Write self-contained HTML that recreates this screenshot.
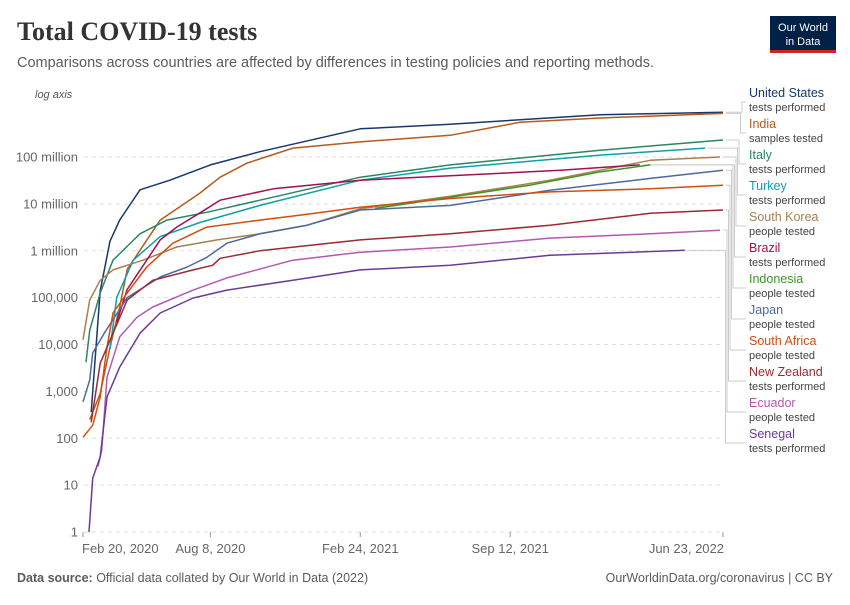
<!DOCTYPE html>
<html><head><meta charset="utf-8">
<style>
html,body{margin:0;padding:0;background:#fff;}
body{width:850px;height:600px;position:relative;overflow:hidden;font-family:"Liberation Sans",sans-serif;}
svg text{font-family:"Liberation Sans",sans-serif;}
</style></head>
<body>
<svg id="chart" width="850" height="600" viewBox="0 0 850 600" xmlns="http://www.w3.org/2000/svg">
  <text x="17" y="40" font-size="26" font-weight="bold" fill="#333" style="font-family:'Liberation Serif',serif">Total COVID-19 tests</text>
  <text x="17" y="67" font-size="14.5" fill="#5b5b5b">Comparisons across countries are affected by differences in testing policies and reporting methods.</text>
  <g>
    <rect x="770" y="16" width="66" height="35" fill="#002147"/>
    <rect x="770" y="50" width="66" height="3" fill="#ce261e"/>
    <text x="803" y="31" font-size="11" fill="#fff" text-anchor="middle">Our World</text>
    <text x="803" y="45" font-size="11" fill="#fff" text-anchor="middle">in Data</text>
  </g>
  <text x="35" y="98" font-size="11" font-style="italic" fill="#555">log axis</text>
  <g id="grid"></g>
  <g id="xaxis"></g>
  <g id="connectors"></g>
  <g id="series"></g>
  <g id="legend"></g>
  <text x="17" y="582" font-size="12.5" fill="#5b5b5b"><tspan font-weight="bold">Data source:</tspan> Official data collated by Our World in Data (2022)</text>
  <text x="833" y="582" font-size="12.5" fill="#5b5b5b" text-anchor="end">OurWorldinData.org/coronavirus | CC BY</text>
</svg>
<script>
// Chart data (days since Feb 20, 2020; total tests)
const yTickValues = [1,10,100,1000,10000,100000,1000000,10000000,100000000];
const yTickLabels = ["1","10","100","1,000","10,000","100,000","1 million","10 million","100 million"];
const xTickDays = [0,170,370,570,854];
const xTickLabels = ["Feb 20, 2020","Aug 8, 2020","Feb 24, 2021","Sep 12, 2021","Jun 23, 2022"];
const countries = ["United States","India","Italy","Turkey","South Korea","Brazil","Indonesia","Japan","South Africa","New Zealand","Ecuador","Senegal"];
const metrics = ["tests performed","samples tested","tests performed","tests performed","people tested","tests performed","people tested","people tested","people tested","tests performed","people tested","tests performed"];
const colors = ["#18386a","#b35a1f","#2c8465","#0fa0a8","#a8804f","#a0124f","#3a9820","#4c6a9c","#cf4e12","#9a2b32","#b25ab0","#6b3a99"];
const usDays = [11,23,36,49,76,116,170,236,370,490,690,854];
const usVals = [360,140000,1600000,4500000,20000000,32000000,68000000,130000000,400000000,500000000,800000000,900000000];
const indiaDays = [9,23,36,49,59,103,156,183,219,280,370,490,583,690,854];
const indiaVals = [250,900,8700,63000,400000,4500000,17000000,37000000,74000000,155000000,210000000,290000000,550000000,680000000,850000000];
const italyDays = [4,9,23,40,76,112,165,236,370,490,690,854];
const italyVals = [4200,20000,126000,630000,2300000,4500000,6600000,12000000,37000000,68000000,140000000,230000000];
const turkeyDays = [36,45,67,103,156,236,370,490,690,830];
const turkeyVals = [8000,100000,630000,2000000,4000000,9300000,32000000,58000000,110000000,155000000];
const koreaDays = [0,9,23,40,80,125,179,236,299,370,490,623,757,850];
const koreaVals = [12600,89000,234000,390000,630000,1200000,1700000,2300000,3500000,7900000,14500000,32000000,85000000,100000000];
const brazilDays = [45,59,85,103,125,165,183,254,370,490,637,743];
const brazilVals = [30000,150000,630000,1700000,3200000,7900000,12000000,21000000,32000000,40000000,52000000,68000000];
const indonesiaDays = [390,490,596,690,757];
const indonesiaVals = [8000000,13800000,25000000,48000000,68000000];
const japanDays = [0,9,13,29,59,103,139,165,192,236,299,370,490,623,757,854];
const japanVals = [600,1740,6600,18000,100000,275000,450000,720000,1450000,2300000,3500000,7400000,9300000,19500000,35000000,52000000];
const safricaDays = [0,13,23,32,40,59,85,120,165,236,290,370,490,623,757,854];
const safricaVals = [105,190,760,8700,47000,126000,450000,1450000,3200000,4500000,5750000,8500000,13000000,18000000,21000000,25000000];
const nzDays = [11,23,59,93,147,173,183,236,370,490,623,757,854];
const nzVals = [220,4000,89000,234000,390000,490000,690000,1000000,1700000,2300000,3500000,6300000,7400000];
const ecuadorDays = [20,25,32,49,72,93,147,192,280,370,490,623,757,850];
const ecuadorVals = [25,56,2000,14500,38000,63000,145000,263000,630000,930000,1200000,1860000,2300000,2750000];
const senegalDays = [8,13,23,32,49,76,103,147,192,280,370,490,623,803];
const senegalVals = [1,14,40,760,3300,17400,47000,98000,145000,234000,390000,490000,800000,1020000];
const seriesDays = [usDays,indiaDays,italyDays,turkeyDays,koreaDays,brazilDays,indonesiaDays,japanDays,safricaDays,nzDays,ecuadorDays,senegalDays];
const seriesVals = [usVals,indiaVals,italyVals,turkeyVals,koreaVals,brazilVals,indonesiaVals,japanVals,safricaVals,nzVals,ecuadorVals,senegalVals];

const NS = "http://www.w3.org/2000/svg";
const X0 = 83, X1 = 723, DMAX = 854;
const Y1 = 532, DEC = 46.875;
function xScale(d){ return X0 + (X1 - X0) * d / DMAX; }
function yScale(v){ return Y1 - DEC * Math.log10(v); }
function mk(tag, attrs, parent){
  const e = document.createElementNS(NS, tag);
  for (const k in attrs) e.setAttribute(k, attrs[k]);
  parent.appendChild(e);
  return e;
}
const grid = document.getElementById('grid');
yTickValues.forEach((v, i) => {
  const y = yScale(v);
  const ln = mk('line', {x1: 84, x2: X1, y1: y, y2: y, stroke: '#dddddd', 'stroke-dasharray': '4,4'}, grid);
  
  
  const t = mk('text', {x: 78, y: y + 4.5, 'font-size': 13, fill: '#666', 'text-anchor': 'end'}, grid);
  t.textContent = yTickLabels[i];
  
  
});
const xa = document.getElementById('xaxis');
xTickDays.forEach((d, i) => {
  const x = xScale(d);
  const tk = mk('line', {x1: x, x2: x, y1: 532, y2: 537, stroke: '#999'}, xa);
  
  
  let anchor = 'middle', tx = x;
  if (i === 0) { anchor = 'start'; tx = x - 1; }
  if (i === xTickDays.length - 1) { anchor = 'end'; tx = x + 1; }
  const t = mk('text', {x: tx, y: 553, 'font-size': 13, fill: '#666', 'text-anchor': anchor}, xa);
  t.textContent = xTickLabels[i];
  
  
});
const sg = document.getElementById('series');
const cg = document.getElementById('connectors');
const lg = document.getElementById('legend');
const labelY0 = 97, labelStep = 31;
countries.forEach((c, i) => {
  const ds = seriesDays[i], vs = seriesVals[i];
  const pts = ds.map((d, j) => xScale(d).toFixed(1) + ',' + yScale(vs[j]).toFixed(1)).join(' ');
  const pl = mk('polyline', {points: pts, fill: 'none', stroke: colors[i], 'stroke-width': 1.5, 'stroke-linejoin': 'round'}, sg);
  
  
  const ex = xScale(ds[ds.length - 1]), ey = yScale(vs[vs.length - 1]);
  const ly = labelY0 + labelStep * i + 5;
  const bx = 742 - i * 1.5;
  const con = mk('polyline', {points: (ex + 3) + ',' + ey + ' ' + bx + ',' + ey + ' ' + bx + ',' + ly + ' ' + 746 + ',' + ly, fill: 'none', stroke: '#cccccc', 'stroke-width': 1}, cg);
  
  
  const g = mk('g', {}, lg);
  
  
  const t1 = mk('text', {x: 749, y: labelY0 + labelStep * i, 'font-size': 12.5, fill: colors[i]}, g);
  t1.textContent = c;
  const t2 = mk('text', {x: 749, y: labelY0 + labelStep * i + 14, 'font-size': 11, fill: '#444'}, g);
  t2.textContent = metrics[i];
});
</script>
</body></html>
